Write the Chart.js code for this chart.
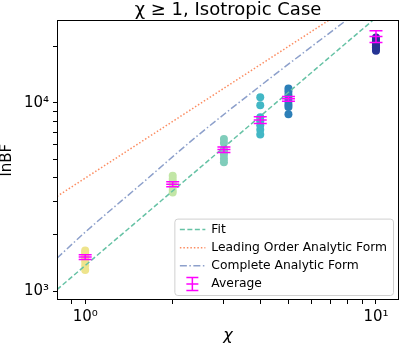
<!DOCTYPE html>
<html>
<head>
<meta charset="utf-8">
<script src="https://cdn.jsdelivr.net/npm/chart.js@4.4.0/dist/chart.umd.min.js"></script>
<style>
html, body { margin: 0; padding: 0; background: #fff; }
</style>
</head>
<body>
<canvas id="chart" width="407" height="345"></canvas>
<script>
// chi of each group of runs, and lnBF of the runs
const chi = [1, 2, 3, 4, 5, 10]
const runsChi1 = [1650, 1610, 1560, 1500, 1440, 1370, 1300]
const runsChi2 = [4100, 3950, 3800, 3700, 3600, 3450, 3350]
const runsChi3 = [6430, 6130, 5700, 5500, 5300, 5050, 4840]
const runsChi4 = [10700, 9700, 8400, 8000, 7600, 7200, 6800]
const runsChi5 = [11900, 11500, 11000, 10600, 10200, 9800, 9500, 8700]
const runsChi10 = [22200, 21700, 21200, 20700, 20200, 19700, 19300, 18900]
const runs = [runsChi1, runsChi2, runsChi3, runsChi4, runsChi5, runsChi10]
const runColors = ['#eee48c', '#c2e6a6', '#80cdbb', '#42b7c5', '#2c7fb8', '#253494']

// average per chi and its error
const avgLnBF = [1520, 3700, 5650, 8100, 10500, 22500]
const avgErr = [45, 110, 190, 330, 300, 1600]

// curves, read where they cross the plot
const fitX = [0.8, 12]
const fitY = [1022, 36000]
const leadingX = [0.8, 12]
const leadingY = [3190, 47800]
const completeX = [0.8, 1, 1.53, 2.45, 4, 7.9, 12]
const completeY = [1500, 2060, 3620, 6750, 12300, 27400, 44600]

const xTicks = [0.9, 1, 2, 3, 4, 5, 6, 7, 8, 9, 10]
const yTicks = [1000, 2000, 3000, 4000, 5000, 6000, 7000, 8000, 9000, 10000, 20000]
const tickLabels = { 1: '10⁰', 10: '10¹', 1000: '10³', 10000: '10⁴' }

const magenta = '#ff00ff'
const font = 'DejaVu Sans'
Chart.defaults.font.family = font
Chart.defaults.color = '#000'

const toPts = (xs, ys) => xs.map((x, i) => ({ x: x, y: ys[i] }))

const scatterPts = []
const scatterCols = []
runs.forEach((vals, i) => {
    vals.forEach(v => {
        scatterPts.push({ x: chi[i], y: v })
        scatterCols.push(runColors[i])
    })
})

const errPts = []
chi.forEach((c, i) => {
    errPts.push({ x: c, y: avgLnBF[i] - avgErr[i] })
    errPts.push({ x: c, y: avgLnBF[i] + avgErr[i] })
    errPts.push({ x: c, y: null })
})

const lineSets = [
    { label: 'Fit', data: toPts(fitX, fitY), borderColor: '#66c2a5', borderDash: [5, 2.5] },
    { label: 'Leading Order Analytic Form', data: toPts(leadingX, leadingY), borderColor: '#fc8d62', borderDash: [1.5, 2] },
    { label: 'Complete Analytic Form', data: toPts(completeX, completeY), borderColor: '#8da0cb', borderDash: [7, 2.5, 1.5, 2.5], cubicInterpolationMode: 'monotone' }
].map(d => Object.assign({ showLine: true, pointRadius: 0, borderWidth: 1.5, order: 2 }, d))

const frameAndLegend = {
    id: 'frameAndLegend',
    afterDraw(chart) {
        const { ctx, chartArea: a } = chart
        ctx.save()
        ctx.strokeStyle = '#000'
        ctx.lineWidth = 1
        ctx.strokeRect(Math.round(a.left) + 0.5, Math.round(a.top) + 0.5, Math.round(a.width) - 1, Math.round(a.height) - 1)

        // legend, lower right inside the axes
        ctx.font = '12.3px "' + font + '"'
        const labels = lineSets.map(d => d.label).concat(['Average'])
        const textW = Math.max(...labels.map(l => ctx.measureText(l).width))
        const rowH = 18.1
        const w = 37 + textW + 6
        const h = rowH * labels.length + 4
        const x0 = a.right - 6 - w
        const y0 = a.bottom - 5 - h
        ctx.beginPath()
        ctx.roundRect(x0 + 0.5, y0 + 0.5, w, h, 3)
        ctx.fillStyle = 'rgba(255,255,255,0.8)'
        ctx.fill()
        ctx.strokeStyle = '#d0d0d0'
        ctx.stroke()

        ctx.textBaseline = 'middle'
        labels.forEach((label, i) => {
            const cy = y0 + 11 + i * rowH
            const d = lineSets[i]
            if (d) {
                ctx.beginPath()
                ctx.setLineDash(d.borderDash)
                ctx.strokeStyle = d.borderColor
                ctx.lineWidth = 1.5
                ctx.moveTo(x0 + 5.5, cy)
                ctx.lineTo(x0 + 31, cy)
                ctx.stroke()
                ctx.setLineDash([])
            } else {
                const cx = x0 + 18
                ctx.beginPath()
                ctx.strokeStyle = magenta
                ctx.lineWidth = 1.5
                ctx.moveTo(cx, cy - 6.5); ctx.lineTo(cx, cy + 6.5)
                ctx.moveTo(cx - 6, cy - 6.5); ctx.lineTo(cx + 6, cy - 6.5)
                ctx.moveTo(cx - 6, cy + 6.5); ctx.lineTo(cx + 6, cy + 6.5)
                ctx.moveTo(cx - 6, cy); ctx.lineTo(cx + 6, cy)
                ctx.stroke()
            }
            ctx.fillStyle = '#000'
            ctx.fillText(label, x0 + 37, cy)
        })
        ctx.restore()
    }
}

const axisCommon = (ticks) => ({
    type: 'logarithmic',
    border: { display: false },
    grid: { display: true, drawOnChartArea: false, drawTicks: true, tickLength: 4, tickColor: '#000', tickWidth: 1 },
    afterBuildTicks: (scale) => { scale.ticks = ticks.map(v => ({ value: v })) },
    ticks: {
        autoSkip: false, maxRotation: 0, padding: 4,
        font: { size: 15 }, color: '#000',
        callback: (v) => tickLabels[v] || ''
    }
})

new Chart(document.getElementById('chart'), {
    type: 'scatter',
    data: {
        datasets: [
            { label: 'Average', data: errPts, showLine: true, borderColor: magenta, borderWidth: 1.5,
              pointStyle: 'line', pointRadius: 6.5, pointBorderWidth: 1.5, pointBorderColor: magenta, order: 0 },
            { label: 'mean', data: toPts(chi, avgLnBF), pointStyle: 'line', pointRadius: 6.5,
              pointBorderWidth: 1.5, pointBorderColor: magenta, order: 0 },
            ...lineSets,
            { label: 'runs', data: scatterPts, pointRadius: 4, pointBorderWidth: 0,
              pointBackgroundColor: scatterCols, order: 3 }
        ]
    },
    options: {
        responsive: false,
        animation: false,
        layout: { padding: { left: 0, right: 4, top: 0, bottom: 0 } },
        plugins: {
            legend: { display: false },
            tooltip: { enabled: false },
            title: {
                display: true, text: 'χ ≥ 1, Isotropic Case', fullSize: false,
                font: { size: 18, weight: 'normal', lineHeight: 1.13 }, color: '#000',
                padding: { top: 0, bottom: 0 }
            }
        },
        scales: {
            x: Object.assign(axisCommon(xTicks), {
                min: 0.8, max: 12,
                afterFit: (scale) => { scale.height = 45 },
                title: { display: true, text: 'χ', font: { size: 16, style: 'italic', lineHeight: 1.2 }, padding: { top: 0, bottom: 0 } }
            }),
            y: Object.assign(axisCommon(yTicks), {
                min: 900, max: 27400,
                afterFit: (scale) => { scale.width = 57 },
                title: { display: true, text: 'lnBF', font: { size: 15, lineHeight: 1 }, padding: { top: 0, bottom: 0 } }
            })
        }
    },
    plugins: [frameAndLegend]
})
</script>
</body>
</html>
